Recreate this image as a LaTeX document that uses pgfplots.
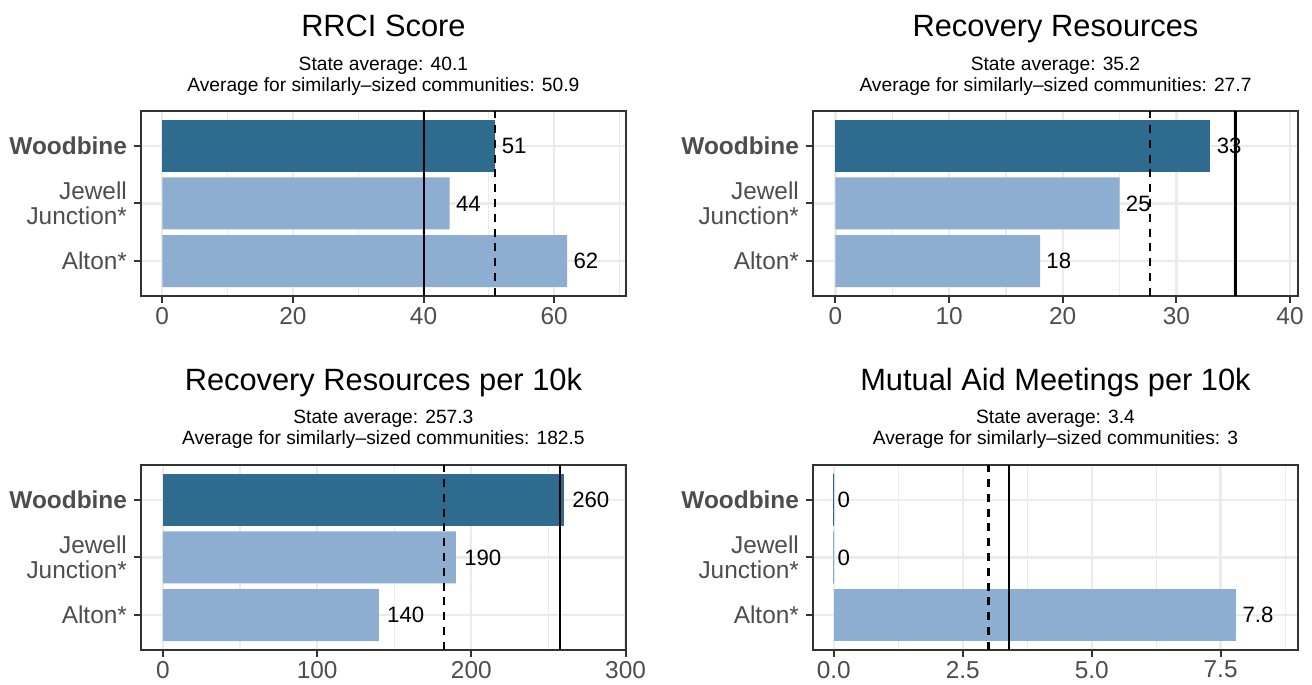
\documentclass[border=0pt]{standalone}
\usepackage{fontspec}
\setmainfont{Liberation Sans}
\usepackage{pgfplots}
\pgfplotsset{compat=1.18}

\definecolor{darkbar}{HTML}{2E6B8E}
\definecolor{lightbar}{HTML}{8DAED1}
\definecolor{gridgray}{HTML}{EBEBEB}
\definecolor{ticktext}{HTML}{4D4D4D}
\definecolor{framegray}{HTML}{333333}

\newcommand{\titlefont}{\fontsize{15.4}{18}\selectfont}
\newcommand{\subfont}{\fontsize{9.6}{10.5}\selectfont}

\pgfplotsset{
  panel/.style={
    scale only axis, width=242.65pt, height=92.4pt, anchor=north west,
    xbar, bar width=0.9, bar shift=0pt,
    y dir=reverse, ymin=0.4, ymax=3.6, ytick={1,2,3},
    yticklabels={\textbf{Woodbine}, Jewell\\Junction*, Alton*},
    yticklabel style={align=right, font=\fontsize{12.2}{12.6}\selectfont,
      text=ticktext, inner sep=0pt, xshift=-3.3pt},
    xticklabel style={font=\fontsize{12.2}{14}\selectfont, text=ticktext,
      inner sep=0pt, yshift=-2pt},
    tick align=outside, major tick length=3.4pt, minor tick length=0pt,
    xtick pos=bottom, ytick pos=left,
    major tick style={framegray, line width=1pt},
    axis line style={framegray, line width=0.85pt},
    grid=both,
    major grid style={gridgray, line width=1.15pt},
    minor grid style={gridgray, line width=0.6pt},
    point meta=explicit symbolic,
  },
  vals/.style={
    nodes near coords, nodes near coords align=horizontal,
    every node near coord/.append style={font=\fontsize{11.1}{13}\selectfont,
      text=black, anchor=west, inner sep=0pt, xshift=#1},
  },
  vals/.default=3pt,
  stateline/.style={sharp plot, black, line width=1.1pt, forget plot},
  simline/.style={sharp plot, black, line width=1.1pt, dash pattern=on 4pt off 3.4pt, forget plot},
}

\begin{document}
\begin{tikzpicture}

% RRCI Score
\begin{axis}[panel, at={(70.35pt,-55.5pt)},
  xmin=-3.3, xmax=71, xtick={0,20,40,60}, xticklabels={0,20,40,60},
  minor xtick={10,30,50,70}]
  \addplot[fill=darkbar, draw=none, vals] coordinates {(51,1) [51]};
  \addplot[fill=lightbar, draw=none, vals] coordinates {(44,2) [44] (62,3) [62]};
  \addplot[stateline] coordinates {(40.1,3.6) (40.1,0.4)};
  \addplot[simline] coordinates {(50.9,3.6) (50.9,0.4)};
\end{axis}

% Recovery Resources
\begin{axis}[panel, at={(406.35pt,-55.5pt)},
  xmin=-2.0, xmax=40.7, xtick={0,10,20,30,40}, xticklabels={0,10,20,30,40},
  minor xtick={5,15,25,35}]
  \addplot[fill=darkbar, draw=none, vals] coordinates {(33,1) [33]};
  \addplot[fill=lightbar, draw=none, vals] coordinates {(25,2) [25] (18,3) [18]};
  \addplot[stateline] coordinates {(35.2,3.6) (35.2,0.4)};
  \addplot[simline] coordinates {(27.7,3.6) (27.7,0.4)};
\end{axis}

% Recovery Resources per 10k
\begin{axis}[panel, at={(70.35pt,-232.5pt)},
  xmin=-14.4, xmax=300.3, xtick={0,100,200,300}, xticklabels={0,100,200,300},
  minor xtick={50,150,250}]
  \addplot[fill=darkbar, draw=none, vals=4pt] coordinates {(260,1) [260]};
  \addplot[fill=lightbar, draw=none, vals=4pt] coordinates {(190,2) [190] (140,3) [140]};
  \addplot[stateline] coordinates {(257.3,3.6) (257.3,0.4)};
  \addplot[simline] coordinates {(182.5,3.6) (182.5,0.4)};
\end{axis}

% Mutual Aid Meetings per 10k
\begin{axis}[panel, at={(406.35pt,-232.5pt)},
  xmin=-0.41, xmax=9.0, xtick={0,2.5,5,7.5}, xticklabels={0.0,2.5,5.0,7.5},
  minor xtick={1.25,3.75,6.25,8.75}]
  \addplot[fill=darkbar, draw=darkbar, line width=0.4pt, vals=1.7pt] coordinates {(0,1) [0]};
  \addplot[fill=lightbar, draw=lightbar, line width=0.4pt, vals=1.7pt] coordinates {(0,2) [0]};
  \addplot[fill=lightbar, draw=none, vals] coordinates {(7.8,3) [7.8]};
  \addplot[stateline] coordinates {(3.4,3.6) (3.4,0.4)};
  \addplot[simline] coordinates {(3,3.6) (3,0.4)};
\end{axis}

% titles and subtitles
\node[anchor=base, font=\titlefont] at (191.7pt,-18.35pt) {RRCI Score};
\node[anchor=base, font=\subfont] at (191.7pt,-35.35pt) {State average: 40.1};
\node[anchor=base, font=\subfont] at (191.7pt,-45.85pt) {Average for similarly--sized communities: 50.9};

\node[anchor=base, font=\titlefont] at (527.75pt,-18.35pt) {Recovery Resources};
\node[anchor=base, font=\subfont] at (527.75pt,-35.35pt) {State average: 35.2};
\node[anchor=base, font=\subfont] at (527.75pt,-45.85pt) {Average for similarly--sized communities: 27.7};

\node[anchor=base, font=\titlefont] at (191.7pt,-195.25pt) {Recovery Resources per 10k};
\node[anchor=base, font=\subfont] at (191.7pt,-211.5pt) {State average: 257.3};
\node[anchor=base, font=\subfont] at (191.7pt,-222.25pt) {Average for similarly--sized communities: 182.5};

\node[anchor=base, font=\titlefont] at (527.75pt,-195.25pt) {Mutual Aid Meetings per 10k};
\node[anchor=base, font=\subfont] at (527.75pt,-211.5pt) {State average: 3.4};
\node[anchor=base, font=\subfont] at (527.75pt,-222.25pt) {Average for similarly--sized communities: 3};

\pgfresetboundingbox
\path (0,0) rectangle (656pt,-342.5pt);
\end{tikzpicture}
\end{document}
